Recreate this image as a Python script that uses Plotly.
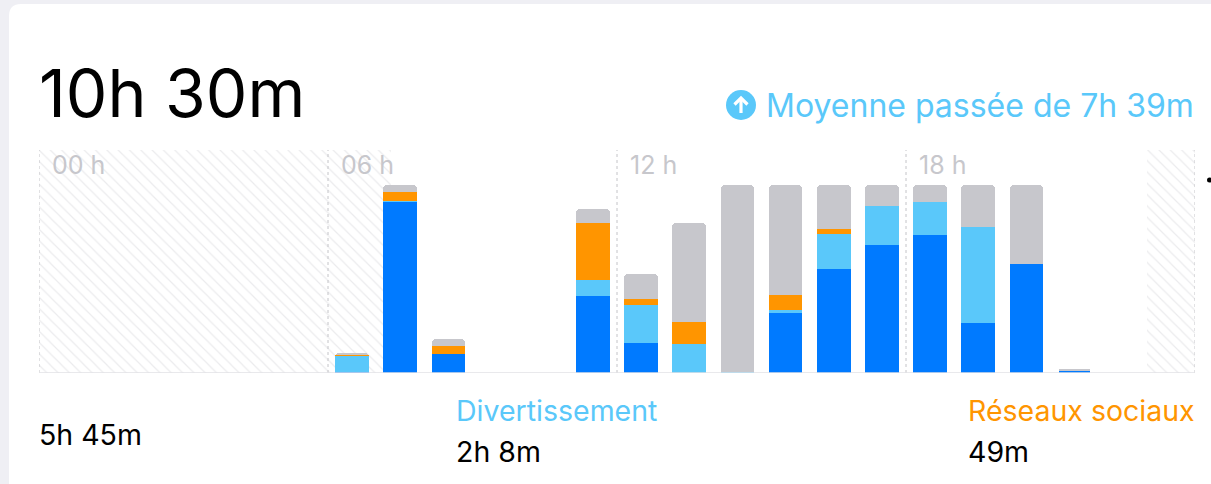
import numpy as np
import plotly.graph_objects as go

W, H = 1211, 484

# ---------------- data (minutes per hour) ----------------
hours = list(range(24))
productivite = [0, 0, 0, 0, 0, 0, 0.3, 54.6, 6.1, 0, 0, 24.6, 9.6, 0, 0, 19.2, 33.2, 40.9, 44.0, 16.0, 34.8, 0.7, 0, 0]
divertissement = [0, 0, 0, 0, 0, 0, 5.2, 0.3, 0, 0, 0, 5.1, 12.1, 9.3, 0.3, 1.0, 11.2, 12.4, 10.5, 30.6, 0, 0, 0, 0]
reseaux = [0, 0, 0, 0, 0, 0, 0.3, 3.0, 2.5, 0, 0, 18.2, 1.9, 7.0, 0, 4.8, 1.6, 0, 0, 0, 0, 0, 0, 0]
autres = [0, 0, 0, 0, 0, 0, 0.6, 2.1, 2.2, 0, 0, 4.5, 8.0, 31.6, 59.7, 35.0, 14.0, 6.7, 5.5, 13.4, 25.2, 0.3, 0, 0]

tick_hours = [0, 6, 12, 18]
tick_labels = ["00 h", "06 h", "12 h", "18 h"]

total_label = "10h 30m"
average_label = "Moyenne passée de 7h 39m"
legend_names = ["", "Divertissement", "Réseaux sociaux"]
legend_values = ["5h 45m", "2h 8m", "49m"]

downtime_start = [0.0, 23.0]
downtime_end = [7.3, 24.0]

BLUE = "#007AFF"
LBLUE = "#5AC8FA"
ORANGE = "#FF9500"
GRAY = "#C7C7CC"
BG = "#EFEFF4"
FONT = "Inter"

# ---------------- geometry helpers ----------------
def px(x):
    return x / W

def py(y):
    return 1 - y / H

x_left, x_right = 39, 1195
y_base, y_top60, y_top = 373, 185, 150
ymax = (y_base - y_top) * 60 / (y_base - y_top60)

fig = go.Figure()

# downtime hatch (base axes, drawn underneath)
for s, e in zip(downtime_start, downtime_end):
    fig.add_trace(go.Bar(
        x=[(s + e) / 2], y=[ymax], width=[e - s],
        marker=dict(color="white", line=dict(width=0), cornerradius=0,
                    pattern=dict(shape="\\", fgcolor="#D8D8DC", bgcolor="white",
                                 size=8, solidity=0.15)),
        hoverinfo="skip", showlegend=False, xaxis="x", yaxis="y"))

centers = [h + 0.5 for h in hours]
for vals, col in [(productivite, BLUE), (divertissement, LBLUE), (reseaux, ORANGE), (autres, GRAY)]:
    fig.add_trace(go.Bar(
        x=centers, y=vals, width=0.7,
        marker=dict(color=col, line=dict(width=0)),
        showlegend=False, xaxis="x2", yaxis="y2"))

shapes = []
# card
r = 12
cx0, cy0, cx1, cy1 = 9, 4, 1240, 520
path = (f"M {px(cx0)},{py(cy1)} L {px(cx0)},{py(cy0 + r)} "
        f"Q {px(cx0)},{py(cy0)} {px(cx0 + r)},{py(cy0)} "
        f"L {px(cx1)},{py(cy0)} L {px(cx1)},{py(cy1)} Z")
shapes.append(dict(type="path", xref="paper", yref="paper", path=path,
                   fillcolor="white", line=dict(width=0), layer="below"))

# dashed hour separators
for h in tick_hours + [24]:
    shapes.append(dict(type="line", xref="x", yref="paper", x0=h, x1=h,
                       y0=py(y_base), y1=py(y_top),
                       line=dict(color="#C4C4C8", width=1, dash="3px,3px"), layer="above"))
# baseline
shapes.append(dict(type="line", xref="x", yref="y", x0=0, x1=24, y0=0, y1=0,
                   line=dict(color="#E2E2E6", width=1.5), layer="above"))

# average icon
shapes.append(dict(type="circle", xref="paper", yref="paper",
                   x0=px(726), x1=px(756), y0=py(120), y1=py(90),
                   fillcolor=LBLUE, line=dict(width=0)))
shapes.append(dict(type="line", xref="paper", yref="paper",
                   x0=px(741), x1=px(741), y0=py(113), y1=py(98.5),
                   line=dict(color="white", width=3.2)))
shapes.append(dict(type="path", xref="paper", yref="paper",
                   path=f"M {px(734.5)},{py(104.5)} L {px(741)},{py(98)} L {px(747.5)},{py(104.5)}",
                   line=dict(color="white", width=3.2)))
# clipped element at right edge
shapes.append(dict(type="circle", xref="paper", yref="paper",
                   x0=px(1207), x1=px(1212), y0=py(182.5), y1=py(177.5),
                   fillcolor="black", line=dict(width=0)))

ann = []
def text(x, y, s, size, color, anchor="left"):
    ann.append(dict(x=px(x), y=py(y), xref="paper", yref="paper", text=s,
                    showarrow=False, xanchor=anchor, yanchor="middle",
                    font=dict(family=FONT, size=size, color=color)))

text(37, 93, total_label, 66, "black")
text(1196, 105.5, average_label, 32, LBLUE, anchor="right")
for h, lab in zip(tick_hours, tick_labels):
    ann.append(dict(x=h, y=py(165), xref="x", yref="paper", text=lab, showarrow=False,
                    xanchor="left", yanchor="middle", xshift=11,
                    font=dict(family=FONT, size=25, color="#C7C7CC")))
text(37, 434, legend_values[0], 28.5, "black")
text(454, 410, legend_names[1], 28.5, LBLUE)
text(454, 451, legend_values[1], 28.5, "black")
text(966, 410, legend_names[2], 28.5, ORANGE)
text(966, 451, legend_values[2], 28.5, "black")

axis_common = dict(showgrid=False, zeroline=False, showticklabels=False,
                   showline=False, ticks="", fixedrange=True)
fig.update_layout(
    width=W, height=H, margin=dict(l=0, r=0, t=0, b=0),
    paper_bgcolor=BG, plot_bgcolor="rgba(0,0,0,0)",
    barmode="stack", barcornerradius=4, bargap=0,
    xaxis=dict(domain=[px(x_left), px(x_right)], range=[0, 24], **axis_common),
    yaxis=dict(domain=[py(y_base), py(y_top)], range=[0, ymax], **axis_common),
    xaxis2=dict(domain=[px(x_left), px(x_right)], range=[0, 24], overlaying="x", **axis_common),
    yaxis2=dict(domain=[py(y_base), py(y_top)], range=[0, ymax], overlaying="y", **axis_common),
    shapes=shapes, annotations=ann, showlegend=False,
)

fig.write_html("out.html")
